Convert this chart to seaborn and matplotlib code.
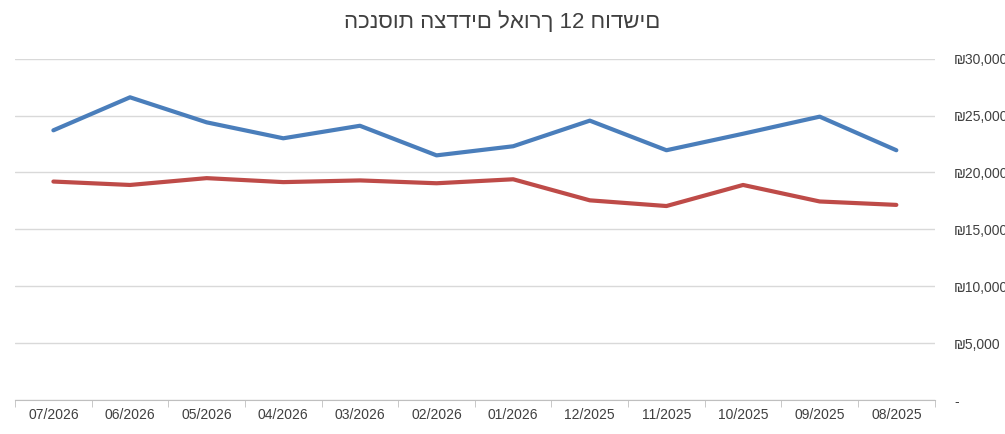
import matplotlib
matplotlib.use("Agg")
import matplotlib.pyplot as plt
import seaborn as sns
import pandas as pd
import numpy as np
from matplotlib.ticker import FuncFormatter, FixedLocator

months = ["07/2026","06/2026","05/2026","04/2026","03/2026","02/2026","01/2026",
          "12/2025","11/2025","10/2025","09/2025","08/2025"]
blue_vals = [23700,26600,24400,23000,24100,21500,22300,24550,21950,23400,24900,21950]
red_vals = [19200,18900,19500,19150,19300,19050,19400,17550,17050,18900,17450,17150]
y_ticks = [0,5000,10000,15000,20000,25000,30000]
title = "הכנסות הצדדים לאורך 12 חודשים"

sns.set_style("white")
plt.rcParams['font.family'] = ['Liberation Sans', 'DejaVu Sans']
fig, ax = plt.subplots(figsize=(10.05, 4.34), dpi=100)
fig.subplots_adjust(left=0.015, right=0.93, top=0.865, bottom=0.078)

df = pd.DataFrame({"x": np.arange(len(months)), "blue": blue_vals, "red": red_vals})
sns.lineplot(data=df, x="x", y="blue", color="#4a7ebb", linewidth=3, ax=ax)
sns.lineplot(data=df, x="x", y="red", color="#be4b48", linewidth=3, ax=ax)

ax.set_xlim(-0.5, len(months) - 0.5)
ax.set_ylim(0, 30000)
ax.set_xticks(np.arange(len(months)))
ax.set_xticklabels(months, fontsize=10, color="#404040")
ax.xaxis.set_minor_locator(FixedLocator(np.arange(-0.5, len(months), 1)))
ax.tick_params(axis="x", which="major", length=0, pad=6)
ax.tick_params(axis="x", which="minor", length=5, color="#bfbfbf", bottom=True)
ax.yaxis.tick_right()
ax.set_yticks(y_ticks)
ax.yaxis.set_major_formatter(FuncFormatter(lambda v, p: "-" if v == 0 else f"₪{int(v):,}"))
ax.tick_params(axis="y", length=0, labelsize=10, labelcolor="#404040", pad=14)
ax.grid(axis="y", color="#d9d9d9", linewidth=1)
for s in ["top", "right", "left"]:
    ax.spines[s].set_visible(False)
ax.spines["bottom"].set_color("#bfbfbf")
ax.set_xlabel(""); ax.set_ylabel("")
fig.suptitle(title, fontsize=16, color="#404040", x=0.5, y=0.975)
fig.savefig("out.png", dpi=100)
